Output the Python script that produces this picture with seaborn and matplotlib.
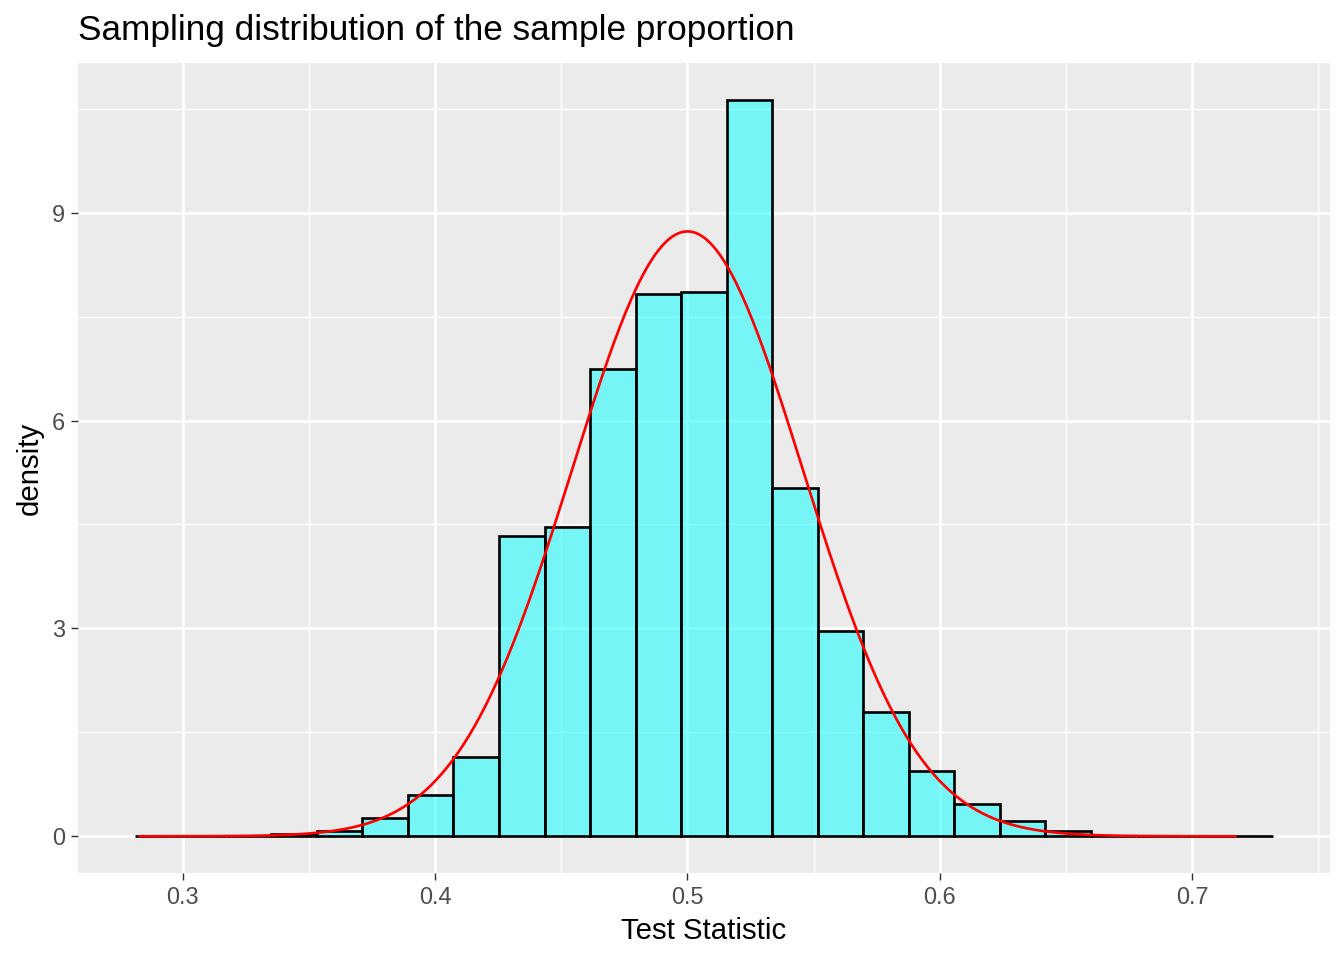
import numpy as np
import pandas as pd
import matplotlib
matplotlib.use("Agg")
import matplotlib.pyplot as plt
import seaborn as sns

# ---- data ----
bin_start = 0.2810
bin_width = 0.01804
n_bins = 25
densities = [0.0, 0.0, 0.0, 0.03, 0.07, 0.26, 0.59, 1.15, 4.33, 4.46, 6.75, 7.83,
             7.85, 10.63, 5.02, 2.96, 1.79, 0.94, 0.46, 0.22, 0.07, 0.0, 0.0, 0.0, 0.0]
curve_mean = 0.5
curve_sd = 0.0457
curve_from, curve_to = 0.2828, 0.7172
x_ticks = [0.3, 0.4, 0.5, 0.6, 0.7]
x_tick_labels = ["0.3", "0.4", "0.5", "0.6", "0.7"]
y_ticks = [0, 3, 6, 9]
y_tick_labels = ["0", "3", "6", "9"]

bin_end = bin_start + bin_width * n_bins
centers = bin_start + bin_width * (np.arange(n_bins) + 0.5)
hist_df = pd.DataFrame({"x": centers, "w": densities})

xs = np.linspace(curve_from, curve_to, 400)
curve_df = pd.DataFrame({
    "x": xs,
    "y": np.exp(-0.5 * ((xs - curve_mean) / curve_sd) ** 2) / (curve_sd * np.sqrt(2 * np.pi)),
})

sns.set_theme(style="darkgrid", rc={
    "axes.facecolor": "#EBEBEB",
    "grid.color": "white",
    "axes.edgecolor": "none",
})
plt.rcParams["font.family"] = ["Liberation Sans", "DejaVu Sans"]

fig = plt.figure(figsize=(7, 5), dpi=192)
ax = fig.add_axes([78 / 1344, 1 - 873 / 960, (1330 - 78) / 1344, (873 - 63) / 960])

sns.histplot(data=hist_df, x="x", weights="w", bins=n_bins,
             binrange=(bin_start, bin_end), stat="count",
             color="cyan", alpha=0.5, edgecolor="black", linewidth=1.0, ax=ax)
sns.lineplot(data=curve_df, x="x", y="y", color="red", linewidth=1.0, ax=ax)

ax.set_xticks(x_ticks)
ax.set_xticklabels(x_tick_labels)
ax.set_yticks(y_ticks)
ax.set_yticklabels(y_tick_labels)
ax.set_xticks([0.35, 0.45, 0.55, 0.65, 0.75], minor=True)
ax.set_yticks([1.5, 4.5, 7.5, 10.5], minor=True)
ax.set_xlim(0.2585, 0.7546)
ax.set_ylim(-0.53, 11.16)
ax.grid(which="major", color="white", linewidth=1.07)
ax.grid(which="minor", color="white", linewidth=0.53)
ax.set_axisbelow(True)
ax.tick_params(which="major", length=2.75, width=0.53, color="#333333",
               labelsize=8.8, labelcolor="#4D4D4D", pad=2.2)
ax.tick_params(axis="both", which="both", bottom=True, left=True)
ax.tick_params(which="minor", length=0)
for s in ax.spines.values():
    s.set_visible(False)

ax.set_xlabel("Test Statistic", fontsize=11, color="black", labelpad=3)
ax.set_ylabel("density", fontsize=11, color="black", labelpad=3)
ax.set_title("Sampling distribution of the sample proportion", fontsize=13.2,
             loc="left", color="black", pad=8.5)

fig.savefig("out.png", dpi=192)
